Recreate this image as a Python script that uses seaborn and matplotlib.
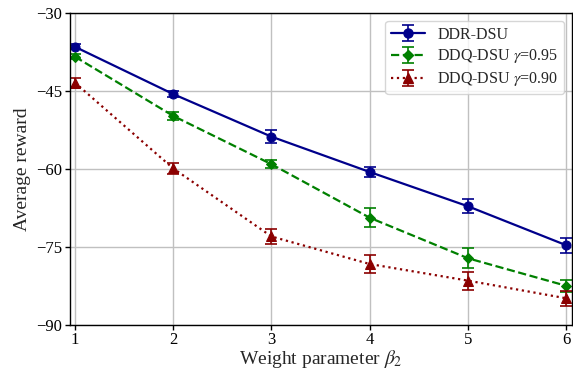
import numpy as np
import pandas as pd
import matplotlib
matplotlib.use("Agg")
import matplotlib.pyplot as plt
import seaborn as sns

# ---- data ----
beta2 = [1, 2, 3, 4, 5, 6]
ddr_dsu = [-36.5, -45.6, -53.8, -60.6, -67.2, -74.7]
ddr_dsu_err = [0.5, 0.5, 1.2, 1.0, 1.35, 1.5]
ddq_095 = [-38.4, -49.8, -59.1, -69.4, -77.2, -82.5]
ddq_095_err = [0.5, 0.8, 0.8, 1.8, 1.9, 1.2]
ddq_090 = [-43.4, -59.9, -73.0, -78.3, -81.5, -84.9]
ddq_090_err = [0.8, 1.0, 1.5, 1.7, 1.7, 1.4]
labels = ["DDR-DSU", r"DDQ-DSU $\gamma$=0.95", r"DDQ-DSU $\gamma$=0.90"]
yticks = [-90, -75, -60, -45, -30]

sns.set_style("whitegrid")
plt.rcParams["font.family"] = ["Liberation Serif", "DejaVu Serif"]
plt.rcParams["mathtext.fontset"] = "stix"
plt.rcParams["axes.unicode_minus"] = True

fig = plt.figure(figsize=(5.73, 3.70), dpi=100)
ax = fig.add_axes([0.122, 0.122, 0.876, 0.843])

series = [
    (ddr_dsu, ddr_dsu_err, "#00008B", "o", "-"),
    (ddq_095, ddq_095_err, "#008000", "D", "--"),
    (ddq_090, ddq_090_err, "#8B0000", "^", ":"),
]

for (vals, errs, color, marker, ls), lab in zip(series, labels):
    ms = 6.5 if marker != "D" else 5.5
    df = pd.DataFrame({"beta": beta2, "reward": vals})
    sns.lineplot(data=df, x="beta", y="reward", ax=ax, color=color,
                 marker=marker, linestyle=ls, linewidth=1.6,
                 markersize=ms, markeredgecolor=color, legend=False)
    ax.errorbar(beta2, vals, yerr=errs, fmt="none", ecolor=color,
                elinewidth=1.2, capsize=4, capthick=1.2)
    # legend proxy
    ax.errorbar([np.nan], [np.nan], yerr=[0], fmt=marker, linestyle=ls,
                color=color, linewidth=1.6, markersize=ms,
                elinewidth=1.2, capsize=4, capthick=1.2, label=lab)

ax.set_xlim(0.95, 6.055)
ax.set_ylim(-90, -30)
ax.set_xticks(beta2)
ax.set_yticks(yticks)
ax.tick_params(axis="both", labelsize=12, direction="out", length=3.5,
               width=1, colors="black", left=True, bottom=True, pad=2)
ax.grid(True, color="#c0c0c0", linewidth=1.0)
for s in ax.spines.values():
    s.set_color("black")
    s.set_linewidth(1.0)

ax.set_xlabel(r"Weight parameter $\beta_2$", fontsize=14, labelpad=0)
ax.set_ylabel("Average reward", fontsize=14, labelpad=4)

leg = ax.legend(loc="upper right", fontsize=11.5, frameon=True,
                fancybox=True, framealpha=0.8, edgecolor="#cccccc",
                borderpad=0.35, labelspacing=0.3, handlelength=2.1)
leg.get_frame().set_linewidth(1.0)

fig.savefig("out.png", dpi=100)
